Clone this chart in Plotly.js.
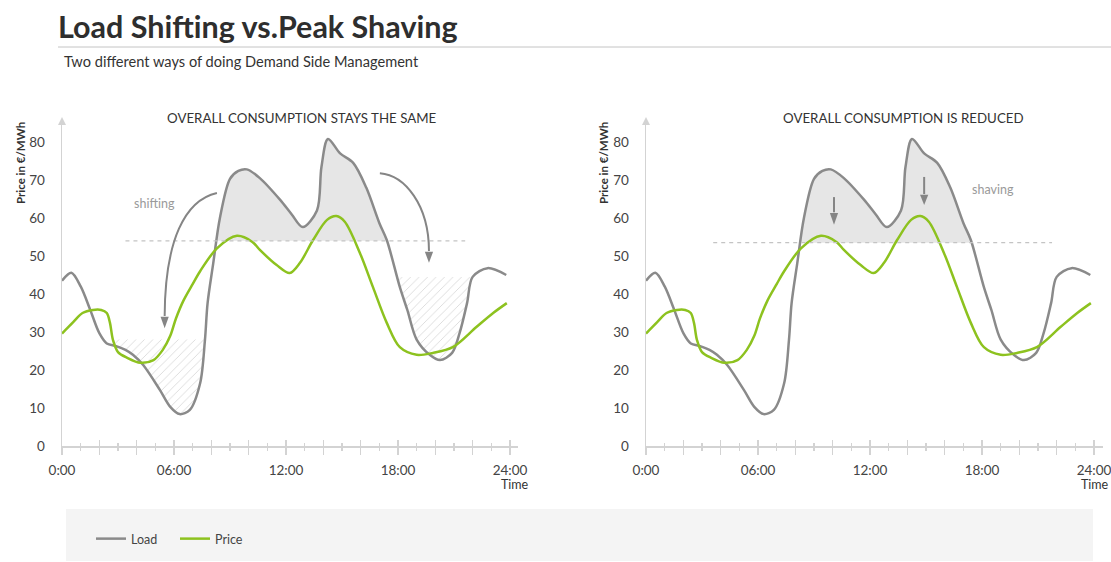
<!DOCTYPE html>
<html>
<head>
<meta charset="utf-8">
<script src="https://cdn.plot.ly/plotly-3.0.1.min.js"></script>
<style>
  html, body { margin: 0; padding: 0; background: #ffffff; }
  #chart { width: 1111px; height: 562px; }
</style>
</head>
<body>
<div id="chart"></div>
<script>
// Hourly demand profile (load) and spot price over one day
const hours = [0, 0.5, 1.0, 1.5, 2.0, 2.4, 2.9, 3.4, 3.8, 4.35, 5.25, 5.8, 6.3, 6.85, 7.4, 7.66, 7.8, 8.1, 8.46, 9.0, 9.45, 9.9, 10.6, 11.7, 12.3, 12.9, 13.66, 13.9, 14.25, 14.9, 15.6, 16.3, 17.0, 17.4, 18.1, 18.5, 19.0, 19.7, 20.25, 20.9, 21.3, 21.7, 22.0, 22.8, 23.8];
const load  = [43.5, 45.6, 42.0, 36.0, 29.7, 27.0, 26.3, 25.3, 24.0, 21.3, 14.7, 10.3, 8.4, 9.5, 16.5, 28.0, 37.6, 48.0, 60.0, 70.3, 72.4, 72.8, 70.5, 64.7, 61.0, 57.6, 62.0, 73.4, 80.8, 77.0, 74.5, 68.0, 58.7, 54.2, 41.8, 35.8, 28.0, 24.0, 22.6, 24.5, 29.7, 37.6, 44.5, 46.8, 45.0];

const priceHours = [0, 0.6, 1.1, 1.66, 2.1, 2.4, 2.57, 2.73, 3.0, 3.5, 4.2, 4.9, 5.4, 5.8, 6.1, 6.5, 7.0, 7.4, 8.3, 9.37, 10.2, 10.6, 11.5, 12.2, 12.75, 13.45, 14.2, 14.7, 15.15, 15.96, 16.66, 17.4, 18.1, 19.0, 19.87, 20.94, 22.2, 23.1, 23.83];
const price      = [29.6, 32.6, 35.0, 35.8, 35.8, 35.0, 32.4, 27.9, 24.7, 23.2, 21.9, 22.6, 25.3, 29.0, 33.5, 38.2, 42.6, 46.0, 52.0, 55.3, 53.7, 51.6, 47.6, 45.5, 48.2, 54.2, 59.5, 60.5, 59.0, 50.8, 41.8, 32.4, 26.0, 24.0, 24.5, 26.0, 31.3, 35.0, 37.6];

// Time axis labels
const majorTicks = [0, 2, 4, 6, 8, 10, 12, 14, 16, 18, 20, 22, 24];
const majorText  = ['0:00', '', '', '06:00', '', '', '12:00', '', '', '18:00', '', '', '24:00'];
const priceTicks = [0, 10, 20, 30, 40, 50, 60, 70, 80];

// Panel headings and reference levels
const panelTitles = ['OVERALL CONSUMPTION STAYS THE SAME', 'OVERALL CONSUMPTION IS REDUCED'];
const shiftCap = 54;     // level above which load is moved away (left panel)
const shaveCap = 53.5;   // level above which load is cut (right panel)
const shiftTargets = [   // troughs that receive the shifted load
  { from: 2.75, to: 7.66, top: 28 },
  { from: 18.0, to: 22.0, top: 44.5 }
];
const capSpan = { left: [3.4, 21.6], right: [3.6, 21.75] };

const GREY = '#8a8a8a';
const GREEN = '#8dc21f';
const FONT = 'Lato, "Open Sans", sans-serif';

function valueAt(xs, ys, h) {
  for (let i = 0; i < xs.length - 1; i++) {
    if (h >= xs[i] && h <= xs[i + 1]) {
      const t = (h - xs[i]) / (xs[i + 1] - xs[i]);
      return ys[i] + t * (ys[i + 1] - ys[i]);
    }
  }
  return ys[ys.length - 1];
}

// Region of the load curve lying above a level, closed along that level
function areaAbove(xs, ys, level) {
  const px = [], py = [];
  for (let i = 0; i < xs.length; i++) {
    if (i > 0 && (ys[i - 1] - level) * (ys[i] - level) < 0) {
      const t = (level - ys[i - 1]) / (ys[i] - ys[i - 1]);
      px.push(xs[i - 1] + t * (xs[i] - xs[i - 1]));
      py.push(level);
    }
    if (ys[i] >= level) { px.push(xs[i]); py.push(ys[i]); }
  }
  return { x: px, y: py };
}

// Region between the load curve and a ceiling over an hour window
function areaBelow(xs, ys, win) {
  const px = [win.from, win.from], py = [win.top, valueAt(xs, ys, win.from)];
  for (let i = 0; i < xs.length; i++) {
    if (xs[i] > win.from && xs[i] < win.to) { px.push(xs[i]); py.push(ys[i]); }
  }
  px.push(win.to); py.push(valueAt(xs, ys, win.to));
  px.push(win.to); py.push(win.top);
  return { x: px, y: py };
}

const traces = [];

// Left panel: peak area and receiving troughs
const leftPeak = areaAbove(hours, load, shiftCap);
traces.push({ x: leftPeak.x, y: leftPeak.y, xaxis: 'x', yaxis: 'y', mode: 'lines',
  line: { width: 0, shape: 'spline', smoothing: 0.9 }, fill: 'toself', fillcolor: '#e6e6e6',
  showlegend: false, hoverinfo: 'skip' });
shiftTargets.forEach(w => {
  const a = areaBelow(hours, load, w);
  traces.push({ x: a.x, y: a.y, xaxis: 'x', yaxis: 'y', mode: 'lines',
    line: { width: 0, shape: 'spline', smoothing: 0.9 }, fill: 'toself', fillcolor: 'rgba(0,0,0,0)',
    fillpattern: { shape: '/', fgcolor: '#d8d8d8', bgcolor: 'rgba(255,255,255,0)', size: 6, solidity: 0.14 },
    showlegend: false, hoverinfo: 'skip' });
});

// Right panel: area that is shaved off
const rightPeak = areaAbove(hours, load, shaveCap);
traces.push({ x: rightPeak.x, y: rightPeak.y, xaxis: 'x2', yaxis: 'y2', mode: 'lines',
  line: { width: 0, shape: 'spline', smoothing: 0.9 }, fill: 'toself', fillcolor: '#e6e6e6',
  showlegend: false, hoverinfo: 'skip' });

// Curves in both panels
[['x', 'y', true], ['x2', 'y2', false]].forEach(([xa, ya, leg]) => {
  traces.push({ x: hours, y: load, xaxis: xa, yaxis: ya, name: 'Load', mode: 'lines',
    line: { color: GREY, width: 2.5, shape: 'spline', smoothing: 0.9 },
    showlegend: leg, legendrank: 1, hoverinfo: 'skip' });
  traces.push({ x: priceHours, y: price, xaxis: xa, yaxis: ya, name: 'Price', mode: 'lines',
    line: { color: GREEN, width: 2.5, shape: 'spline', smoothing: 0.9 },
    showlegend: leg, legendrank: 2, hoverinfo: 'skip' });
});

// Companion axes carrying the upper half of the crossing ticks
traces.push({ x: [null], y: [null], xaxis: 'x3', yaxis: 'y', showlegend: false, hoverinfo: 'skip' });
traces.push({ x: [null], y: [null], xaxis: 'x4', yaxis: 'y2', showlegend: false, hoverinfo: 'skip' });

const W = 1111, H = 562;
const px = v => v / W;
const py = v => (H - v) / H;

const yDomain = [py(446), py(125)];
const yRange = [0, 84.47];
const leftDomain = [px(62), px(518)];
const rightDomain = [px(646), px(1103)];
const xRangeL = [0, 24.43];
const xRangeR = [0, 24.48];

function timeAxis(domain, range, anchor) {
  return {
    domain: domain, range: range, anchor: anchor, fixedrange: true,
    showgrid: false, zeroline: false, showline: true, linecolor: '#d3d3d3', linewidth: 1.5,
    tickmode: 'array', tickvals: majorTicks, ticktext: majorText,
    ticks: 'outside', ticklen: 7, tickwidth: 1.2, tickcolor: '#d3d3d3',
    minor: { tickmode: 'linear', tick0: 0, dtick: 1, ticks: 'outside', ticklen: 3, tickwidth: 1.2, tickcolor: '#d3d3d3' },
    ticklabelstandoff: 4, ticklabeloverflow: 'allow',
    tickfont: { family: FONT, size: 13.5, color: '#444' }
  };
}
function innerTicks(base, range) {
  return {
    overlaying: base, anchor: base === 'x' ? 'y' : 'y2', range: range, fixedrange: true,
    showgrid: false, zeroline: false, showline: false, showticklabels: false,
    tickmode: 'array', tickvals: majorTicks,
    ticks: 'inside', ticklen: 6, tickwidth: 1.2, tickcolor: '#d3d3d3',
    minor: { tickmode: 'linear', tick0: 0, dtick: 1, ticks: 'inside', ticklen: 3, tickwidth: 1.2, tickcolor: '#d3d3d3' }
  };
}
function priceAxis(anchor) {
  return {
    domain: yDomain, range: yRange, anchor: anchor, fixedrange: true,
    showgrid: false, zeroline: false, showline: true, linecolor: '#d3d3d3', linewidth: 1.5,
    tickmode: 'array', tickvals: priceTicks, ticks: '',
    ticklabelstandoff: 13,
    tickfont: { family: FONT, size: 13.5, color: '#444' }
  };
}

const dashed = { color: '#c4c4c4', width: 1.2, dash: '4px,4px' };
const arrowLine = { color: '#858585', width: 2 };

function tri(xTip, yTip, yBase, halfW) {
  return 'M ' + (xTip - halfW) + ',' + yBase + ' L ' + xTip + ',' + yTip + ' L ' + (xTip + halfW) + ',' + yBase + ' Z';
}

const shapes = [
  // legend band
  { type: 'rect', xref: 'paper', yref: 'paper', x0: px(66), x1: px(1093), y0: py(561), y1: py(509),
    fillcolor: '#f4f4f4', line: { width: 0 }, layer: 'below' },
  // rule under the headline
  { type: 'line', xref: 'paper', yref: 'paper', x0: px(58), x1: 1, y0: py(47), y1: py(47),
    line: { color: '#c4c4c4', width: 1 } },
  // arrow tips on the price axes
  { type: 'path', xref: 'paper', yref: 'paper',
    path: 'M ' + px(58) + ',' + py(125) + ' L ' + px(62) + ',' + py(117) + ' L ' + px(66) + ',' + py(125) + ' Z',
    fillcolor: '#d3d3d3', line: { width: 0 } },
  { type: 'path', xref: 'paper', yref: 'paper',
    path: 'M ' + px(642) + ',' + py(125) + ' L ' + px(646) + ',' + py(117) + ' L ' + px(650) + ',' + py(125) + ' Z',
    fillcolor: '#d3d3d3', line: { width: 0 } },
  // cap levels
  { type: 'line', xref: 'x', yref: 'y', x0: capSpan.left[0], x1: capSpan.left[1], y0: shiftCap, y1: shiftCap, line: dashed },
  { type: 'line', xref: 'x2', yref: 'y2', x0: capSpan.right[0], x1: capSpan.right[1], y0: shaveCap, y1: shaveCap, line: dashed },
  // shifting arrows
  { type: 'path', xref: 'x', yref: 'y', path: 'M 8.30,66.6 C 6.59,64.7 5.52,54.2 5.50,34.2', line: arrowLine },
  { type: 'path', xref: 'x', yref: 'y', path: tri(5.50, 31.0, 34.0, 0.22), fillcolor: '#858585', line: { width: 0 } },
  { type: 'path', xref: 'x', yref: 'y', path: 'M 17.03,71.8 C 18.37,71.3 19.66,63.4 19.66,51.3', line: arrowLine },
  { type: 'path', xref: 'x', yref: 'y', path: tri(19.66, 48.2, 51.1, 0.22), fillcolor: '#858585', line: { width: 0 } },
  // shaving arrows
  { type: 'line', xref: 'x2', yref: 'y2', x0: 10.07, x1: 10.07, y0: 65.5, y1: 61.5, line: arrowLine },
  { type: 'path', xref: 'x2', yref: 'y2', path: tri(10.07, 58.2, 61.3, 0.22), fillcolor: '#858585', line: { width: 0 } },
  { type: 'line', xref: 'x2', yref: 'y2', x0: 14.9, x1: 14.9, y0: 70.8, y1: 66.3, line: arrowLine },
  { type: 'path', xref: 'x2', yref: 'y2', path: tri(14.9, 63.4, 66.1, 0.22), fillcolor: '#858585', line: { width: 0 } }
];

const txt = (size, color, bold) => ({ family: FONT, size: size, color: color, weight: bold ? 700 : 400 });

const annotations = [
  { text: 'Two different ways of doing Demand Side Management', xref: 'paper', yref: 'paper',
    x: px(62), y: py(61), xanchor: 'left', yanchor: 'middle', showarrow: false, font: txt(14.6, '#333') },
  { text: panelTitles[0], xref: 'paper', yref: 'paper', x: px(302), y: py(118),
    xanchor: 'center', yanchor: 'middle', showarrow: false, font: txt(13.3, '#333') },
  { text: panelTitles[1], xref: 'paper', yref: 'paper', x: px(903), y: py(118),
    xanchor: 'center', yanchor: 'middle', showarrow: false, font: txt(13.3, '#333') },
  { text: 'Price in €/MWh', xref: 'paper', yref: 'paper', x: px(20), y: py(163), textangle: -90,
    xanchor: 'center', yanchor: 'middle', showarrow: false, font: txt(11.5, '#333', true) },
  { text: 'Price in €/MWh', xref: 'paper', yref: 'paper', x: px(603), y: py(163), textangle: -90,
    xanchor: 'center', yanchor: 'middle', showarrow: false, font: txt(11.5, '#333', true) },
  { text: 'Time', xref: 'paper', yref: 'paper', x: px(531), y: py(485),
    xanchor: 'right', yanchor: 'middle', showarrow: false, font: txt(12.5, '#333') },
  { text: 'Time', xref: 'paper', yref: 'paper', x: px(1111), y: py(485),
    xanchor: 'right', yanchor: 'middle', showarrow: false, font: txt(12.5, '#333') },
  { text: 'shifting', xref: 'x', yref: 'y', x: 4.93, y: 63.7, xanchor: 'center', yanchor: 'middle',
    showarrow: false, font: txt(12.5, '#9a9a9a') },
  { text: 'shaving', xref: 'x2', yref: 'y2', x: 18.6, y: 67.6, xanchor: 'center', yanchor: 'middle',
    showarrow: false, font: txt(12.5, '#9a9a9a') }
];

const layout = {
  width: W, height: H,
  margin: { l: 0, r: 0, t: 0, b: 0, pad: 0 },
  paper_bgcolor: '#ffffff', plot_bgcolor: 'rgba(0,0,0,0)',
  font: { family: FONT, color: '#333' },
  title: {
    text: 'Load Shifting vs.Peak Shaving',
    xref: 'paper', yref: 'container', x: px(58), y: py(27), xanchor: 'left', yanchor: 'middle',
    font: { family: FONT, size: 30.5, color: '#2e2e2e', weight: 700 }
  },
  xaxis: timeAxis(leftDomain, xRangeL, 'y'),
  yaxis: priceAxis('x'),
  xaxis2: timeAxis(rightDomain, xRangeR, 'y2'),
  yaxis2: priceAxis('x2'),
  xaxis3: innerTicks('x', xRangeL),
  xaxis4: innerTicks('x2', xRangeR),
  showlegend: true,
  legend: {
    orientation: 'h', x: px(91), y: py(539), xanchor: 'left', yanchor: 'middle',
    bgcolor: 'rgba(0,0,0,0)', entrywidth: 39, entrywidthmode: 'pixels',
    font: { family: FONT, size: 12.5, color: '#444' }, traceorder: 'normal'
  },
  shapes: shapes,
  annotations: annotations
};

Plotly.newPlot('chart', traces, layout, { displayModeBar: false, staticPlot: true });
</script>
</body>
</html>
